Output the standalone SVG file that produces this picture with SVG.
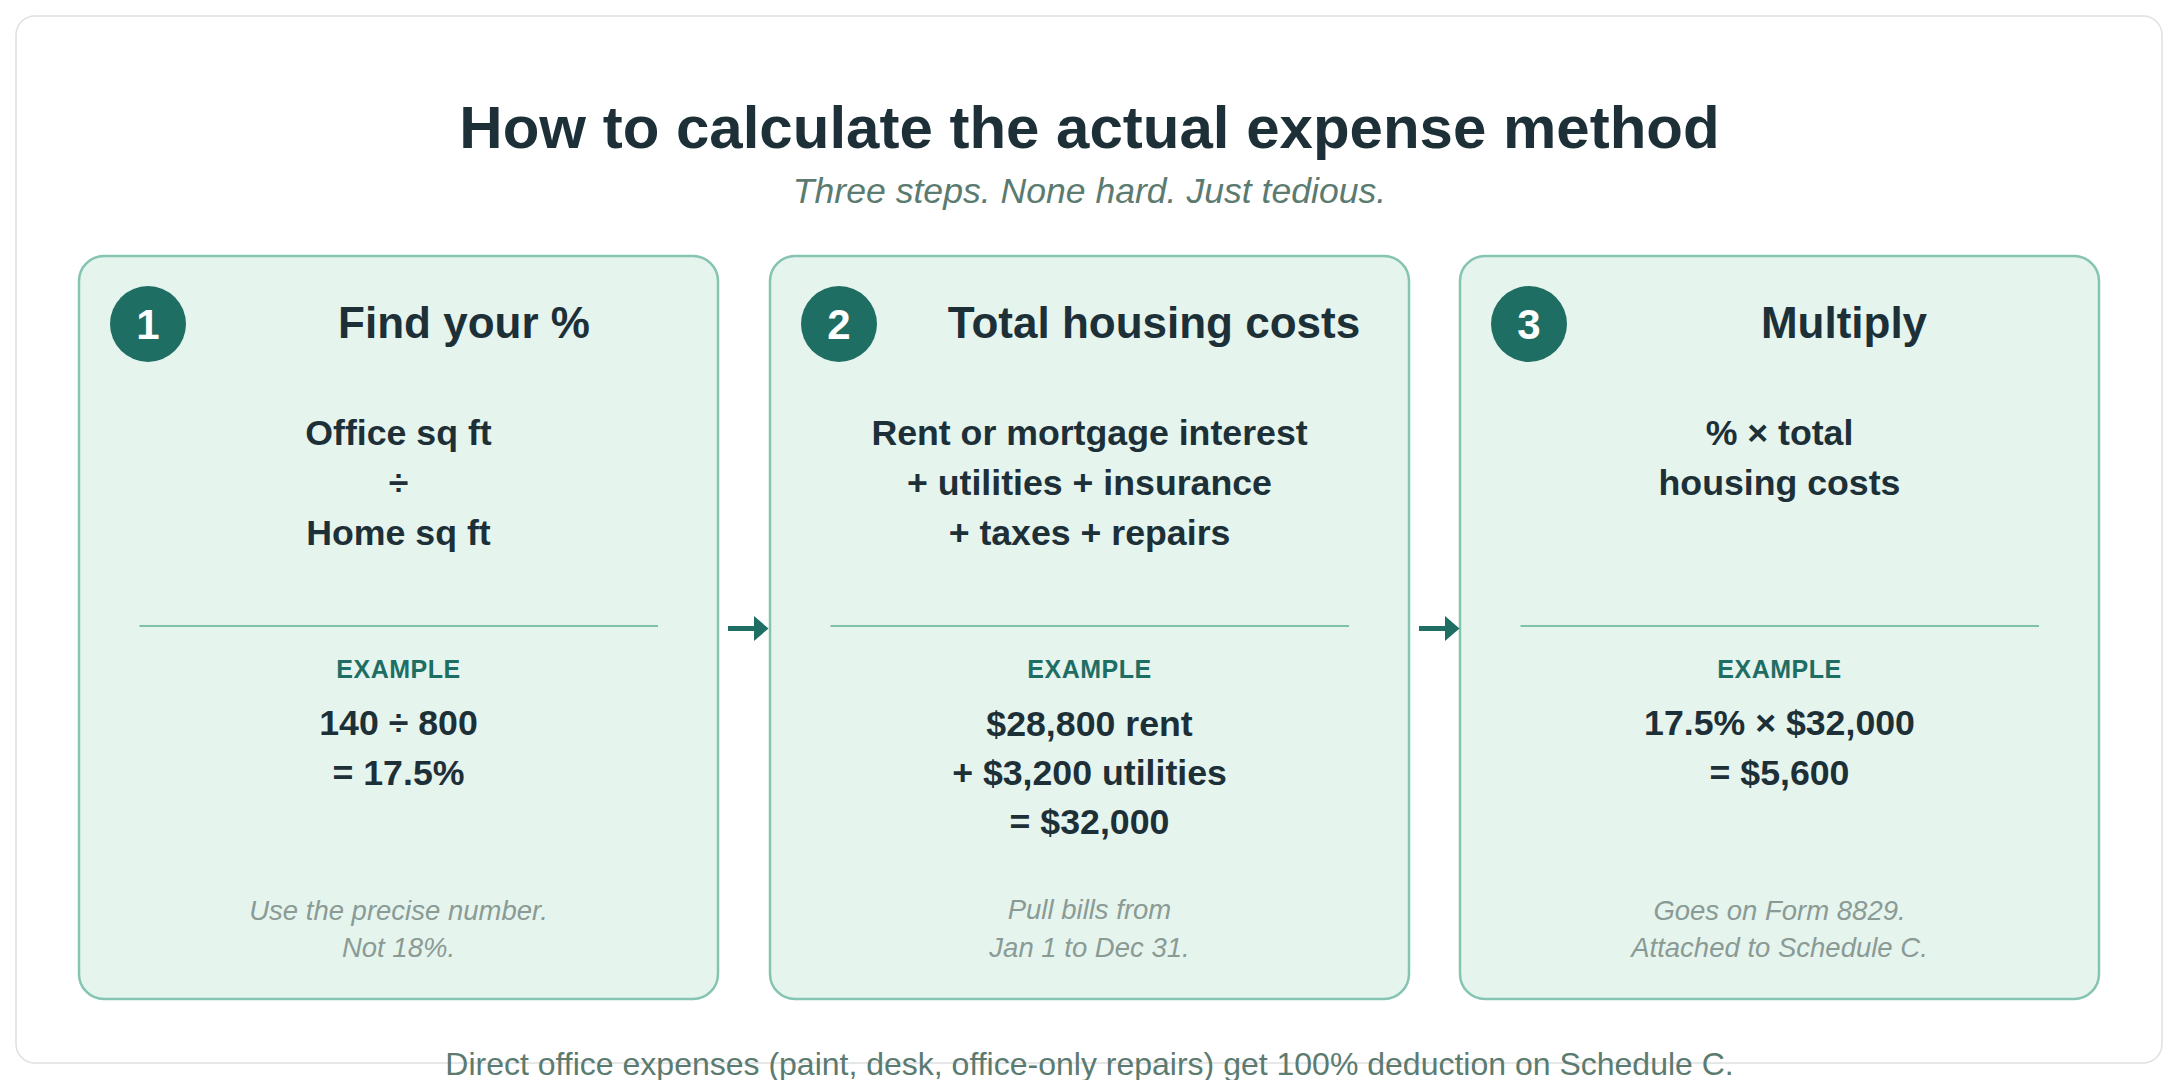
<svg xmlns="http://www.w3.org/2000/svg" width="2179" height="1080" viewBox="0 0 2179 1080">
<defs>
<style>
.t{font-family:"Liberation Sans",Arial,sans-serif}
.card{fill:#e6f4ee;stroke:#85c4b1;stroke-width:2.5}
.div{stroke:#7fc0ac;stroke-width:2}
.num{fill:#1f6e63}
.numt{font-weight:bold;font-size:42px;fill:#fff;text-anchor:middle}
.head{font-weight:bold;font-size:44px;fill:#1d3038;text-anchor:middle}
.body{font-weight:bold;font-size:35.7px;fill:#1d3038;text-anchor:middle}
.ex{font-weight:bold;font-size:25px;fill:#1f6e63;text-anchor:middle;letter-spacing:0.5px}
.note{font-style:italic;font-size:27.5px;fill:#8a9b95;text-anchor:middle}
.arr{stroke:#1f6e63;stroke-width:5;fill:none}
.ah{fill:#1f6e63}
</style>
</defs>
<rect x="0" y="0" width="2179" height="1080" fill="#fff"/>
<rect x="16" y="16" width="2146" height="1047" rx="19" fill="#fff" stroke="#e0e0e0" stroke-width="1.5"/>
<text class="t" x="1089.5" y="148" font-size="60" font-weight="bold" fill="#1d3038" text-anchor="middle">How to calculate the actual expense method</text>
<text class="t" x="1089.5" y="203" font-size="35.6" font-style="italic" fill="#5b7b70" text-anchor="middle">Three steps. None hard. Just tedious.</text>

<g id="step1">
<rect class="card" x="79" y="256" width="639" height="743" rx="25"/>
<circle class="num" cx="148" cy="324" r="38"/>
<text class="t numt" x="148" y="339">1</text>
<text class="t head" x="464" y="338">Find your %</text>
<text class="t body" x="398.5" y="445">Office sq ft</text>
<text class="t body" x="398.5" y="495">÷</text>
<text class="t body" x="398.5" y="545">Home sq ft</text>
<line class="div" x1="139.5" y1="626" x2="658" y2="626"/>
<text class="t ex" x="398.5" y="678">EXAMPLE</text>
<text class="t body" x="398.5" y="735">140 ÷ 800</text>
<text class="t body" x="398.5" y="785">= 17.5%</text>
<text class="t note" x="398.5" y="920">Use the precise number.</text>
<text class="t note" x="398.5" y="957">Not 18%.</text>
</g>

<g id="step2">
<rect class="card" x="770" y="256" width="639" height="743" rx="25"/>
<circle class="num" cx="839" cy="324" r="38"/>
<text class="t numt" x="839" y="339">2</text>
<text class="t head" x="1154" y="338">Total housing costs</text>
<text class="t body" x="1089.5" y="445">Rent or mortgage interest</text>
<text class="t body" x="1089.5" y="495">+ utilities + insurance</text>
<text class="t body" x="1089.5" y="545">+ taxes + repairs</text>
<line class="div" x1="830.5" y1="626" x2="1349" y2="626"/>
<text class="t ex" x="1089.5" y="678">EXAMPLE</text>
<text class="t body" x="1089.5" y="736">$28,800 rent</text>
<text class="t body" x="1089.5" y="785">+ $3,200 utilities</text>
<text class="t body" x="1089.5" y="834">= $32,000</text>
<text class="t note" x="1089.5" y="919">Pull bills from</text>
<text class="t note" x="1089.5" y="957">Jan 1 to Dec 31.</text>
</g>

<g id="step3">
<rect class="card" x="1460" y="256" width="639" height="743" rx="25"/>
<circle class="num" cx="1529" cy="324" r="38"/>
<text class="t numt" x="1529" y="339">3</text>
<text class="t head" x="1844" y="338">Multiply</text>
<text class="t body" x="1779.5" y="445">% × total</text>
<text class="t body" x="1779.5" y="495">housing costs</text>
<line class="div" x1="1520.5" y1="626" x2="2039" y2="626"/>
<text class="t ex" x="1779.5" y="678">EXAMPLE</text>
<text class="t body" x="1779.5" y="735">17.5% × $32,000</text>
<text class="t body" x="1779.5" y="785">= $5,600</text>
<text class="t note" x="1779.5" y="920">Goes on Form 8829.</text>
<text class="t note" x="1779.5" y="957">Attached to Schedule C.</text>
</g>

<g id="connectors">
<line class="arr" x1="728" y1="628.5" x2="755" y2="628.5"/>
<polygon class="ah" points="754,616 768.5,628.5 754,641"/>
<line class="arr" x1="1419" y1="628.5" x2="1446" y2="628.5"/>
<polygon class="ah" points="1445,616 1459.5,628.5 1445,641"/>
</g>

<text class="t" x="1089.5" y="1075" font-size="32" fill="#5b7b70" text-anchor="middle">Direct office expenses (paint, desk, office-only repairs) get 100% deduction on Schedule C.</text>
</svg>
